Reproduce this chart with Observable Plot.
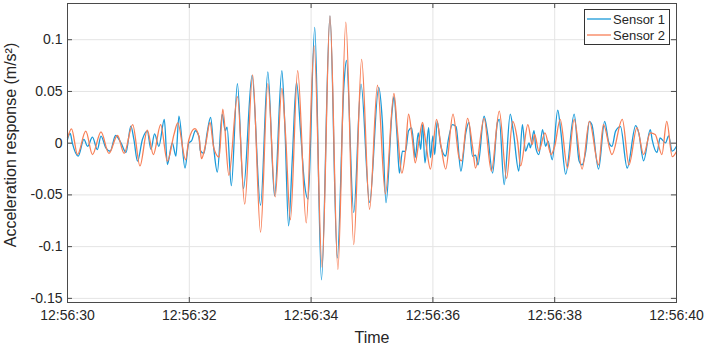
<!DOCTYPE html>
<html>
<head>
<meta charset="utf-8">
<script src="https://cdn.jsdelivr.net/npm/d3@7"></script>
<script src="https://cdn.jsdelivr.net/npm/@observablehq/plot@0.6"></script>
<style>
  html, body { margin: 0; padding: 0; background: #fff; }
</style>
</head>
<body>
<div id="chart"></div>
<script>
// ---- data (seconds after 12:56:30, acceleration in m/s²) ----
const seriesNames = ["Sensor 1", "Sensor 2"];
const xLabel = "Time";
const yLabel = "Acceleration response (m/s²)";
const s1Time = [0, 0.044, 0.08, 0.175, 0.27, 0.33, 0.41, 0.49, 0.55, 0.63, 0.70, 0.79, 0.88, 0.96, 1.04, 1.09, 1.15, 1.23, 1.31, 1.37, 1.43, 1.50, 1.59, 1.64, 1.72, 1.78, 1.83, 1.93,
  1.99, 2.04, 2.10, 2.16, 2.18, 2.24, 2.29, 2.35, 2.40, 2.46, 2.54, 2.59, 2.62, 2.69, 2.79, 2.89, 3.03, 3.17, 3.29, 3.40, 3.52,
  3.57, 3.63, 3.69, 3.76, 3.83, 3.89, 3.95, 4.06, 4.17, 4.31, 4.43, 4.54, 4.58, 4.70, 4.82, 4.96, 5.11,
  5.17, 5.23, 5.33, 5.36, 5.41, 5.45, 5.50, 5.55, 5.60, 5.65, 5.69, 5.71, 5.76, 5.80, 5.83, 5.87, 5.93, 5.96, 6.00, 6.03, 6.07, 6.13, 6.21, 6.25, 6.32, 6.38, 6.46, 6.54, 6.59, 6.65,
  6.70, 6.74, 6.84, 6.90, 6.98, 7.06, 7.09, 7.17, 7.27, 7.32, 7.41, 7.47, 7.52, 7.58, 7.60, 7.66, 7.69, 7.74, 7.80, 7.85, 7.89, 7.96, 8.05, 8.10, 8.18, 8.32,
  8.40, 8.45, 8.51, 8.57, 8.61, 8.72, 8.82, 8.89, 8.94, 9.00, 9.08, 9.19, 9.33, 9.38, 9.46, 9.57, 9.60, 9.68, 9.73, 9.82, 9.87, 9.93, 10.0];
const s1Value = [0.0036, 0.0094, 0.0, -0.0125, 0.0036, -0.003, 0.0059, -0.0062, 0.0069, -0.0045, -0.0078, 0.0074, 0.0, -0.009, 0.0164, 0.0036, -0.0174, 0.0036, 0.0116, -0.006, 0.009, -0.003, 0.0229, -0.0206, 0.0003, -0.0125, 0.026, -0.024,
  0.0, 0.0026, 0.012, 0.006, -0.007, -0.010, 0.009, 0.025, -0.004, -0.028, 0.028, 0.012, 0.0155, -0.041, 0.0575, -0.044, 0.0656, -0.060, 0.069, -0.051, 0.070,
  0.015, -0.080, -0.017, 0.059, 0.0087, -0.038, -0.054, 0.112, -0.132, 0.123, -0.111, 0.057, 0.080, -0.067, 0.057, -0.0575, 0.054,
  0.021, -0.0575, 0.031, 0.045, 0.008, -0.029, -0.0077, -0.008, 0.012, 0.0148, -0.0045, -0.014, 0.010, -0.006, 0.018, -0.019, 0.015, -0.014, 0.007, -0.011, 0.021, -0.003, -0.0125, 0.002, 0.018, 0.016, -0.027, 0.010, 0.020, -0.0125,
  -0.0116, -0.021, 0.026, 0.0084, -0.029, 0.020, 0.023, -0.040, 0.028, 0.0116, -0.027, 0.018, -0.0077, 0.0003, -0.0045, 0.012, -0.0045, -0.011, 0.013, -0.003, 0.002, -0.016, 0.032, 0.0116, -0.030, 0.028,
  -0.017, -0.021, -0.0077, 0.021, 0.018, -0.025, 0.021, 0.0003, -0.003, 0.0116, 0.016, -0.024, 0.017, 0.010, -0.017, 0.013, 0.0035, -0.009, 0.005, 0.0003, 0.007, -0.0077, -0.003];

const s2Time = [0, 0.066, 0.164, 0.30, 0.41, 0.55, 0.68, 0.82, 0.93, 1.07, 1.19, 1.31, 1.41, 1.53, 1.64, 1.75, 1.81, 1.94,
  1.99, 2.09, 2.16, 2.20, 2.27, 2.34, 2.40, 2.49, 2.55, 2.65, 2.79, 2.91, 3.04, 3.17, 3.29, 3.41, 3.52,
  3.58, 3.66, 3.78, 3.92, 4.05, 4.18, 4.31, 4.44, 4.57, 4.70, 4.83, 4.96, 5.09,
  5.22, 5.36, 5.42, 5.49, 5.55, 5.60, 5.66, 5.71, 5.77, 5.83, 5.88, 5.96, 6.06, 6.13, 6.21, 6.33, 6.43, 6.47, 6.57, 6.65, 6.70,
  6.84, 6.96, 7.09, 7.21, 7.31, 7.39, 7.44, 7.56, 7.63, 7.67, 7.74, 7.84, 7.94, 8.00, 8.09, 8.21, 8.32,
  8.45, 8.57, 8.72, 8.80, 8.94, 9.11, 9.22, 9.35, 9.46, 9.57, 9.65, 9.76, 9.84, 9.93, 10.0];
const s2Value = [0.005, 0.0138, -0.011, 0.0116, -0.011, 0.011, -0.0099, 0.0074, -0.0099, 0.018, -0.022, 0.0125, -0.011, 0.018, -0.0174, 0.0087, 0.0196, -0.016,
  0.0026, 0.014, 0.006, -0.015, -0.0006, 0.020, -0.004, -0.0135, 0.033, -0.031, 0.045, -0.059, 0.066, -0.086, 0.0575, -0.052, 0.053,
  0.0087, -0.074, 0.070, -0.077, 0.094, -0.120, 0.123, -0.122, 0.117, -0.098, 0.081, -0.064, 0.056,
  -0.049, 0.048, 0.010, -0.029, -0.0077, 0.028, 0.005, -0.019, 0.002, 0.020, 0.002, -0.025, 0.023, -0.0013, -0.025, 0.028, -0.014, -0.017, 0.024, -0.003, -0.024,
  0.024, -0.027, 0.031, -0.034, 0.021, 0.002, -0.022, 0.018, -0.0013, 0.0084, -0.0077, 0.010, -0.011, -0.003, 0.023, -0.024, 0.023,
  -0.025, 0.021, -0.021, 0.018, -0.011, 0.023, -0.021, 0.015, -0.011, 0.010, 0.0084, -0.011, 0.021, -0.013, -0.008];

const xTickSeconds = [0, 2, 4, 6, 8, 10];
const yTicks = [-0.15, -0.1, -0.05, 0, 0.05, 0.1];
const yDomain = [-0.154, 0.135];

// ---- build tables ----
const t0 = Date.UTC(2020, 0, 1, 12, 56, 30);
const toDate = s => new Date(t0 + s * 1000);
const s1 = s1Time.map((t, i) => ({time: toDate(t), value: s1Value[i]}));
const s2 = s2Time.map((t, i) => ({time: toDate(t), value: s2Value[i]}));
const xTicks = xTickSeconds.map(toDate);

const W = 706, H = 345;
const mL = 67, mR = 30, mT = 3, mB = 43;
const blue = "#1a9ad9", orange = "#f77f57";
const frameColor = "#4a4a4a";
const innerH = H - mT - mB;
const innerW = W - mL - mR;
const tickPx = 5;
const yTickLen = tickPx * (yDomain[1] - yDomain[0]) / innerH;
const xTickLen = tickPx * 10000 / innerW;

const chart = Plot.plot({
  width: W, height: H,
  marginLeft: mL, marginRight: mR, marginTop: mT, marginBottom: mB,
  style: {fontFamily: "'Liberation Sans', Arial, sans-serif", fontSize: "14px", color: "#262626", background: "#fff"},
  x: {type: "utc", domain: [toDate(0), toDate(10)]},
  y: {domain: yDomain},
  marks: [
    Plot.gridX(xTicks, {stroke: "#e4e4e4", strokeOpacity: 1}),
    Plot.gridY(yTicks, {stroke: "#e4e4e4", strokeOpacity: 1}),
    Plot.line(s1, {x: "time", y: "value", stroke: blue, strokeWidth: 1.3, curve: "monotone-x"}),
    Plot.line(s2, {x: "time", y: "value", stroke: orange, strokeWidth: 1.3, curve: "monotone-x"}),
    // inward ticks (MATLAB style)
    Plot.ruleX(xTicks, {x: d => d, y1: yDomain[0], y2: yDomain[0] + yTickLen, stroke: frameColor}),
    Plot.ruleX(xTicks, {x: d => d, y1: yDomain[1], y2: yDomain[1] - yTickLen, stroke: frameColor}),
    Plot.ruleY(yTicks, {y: d => d, x1: toDate(0), x2: toDate(xTickLen / 1000), stroke: frameColor}),
    Plot.ruleY(yTicks, {y: d => d, x1: toDate(10), x2: toDate(10 - xTickLen / 1000), stroke: frameColor}),
    Plot.frame({stroke: frameColor}),
    Plot.axisX(xTicks, {tickSize: 0, tickPadding: 8, tickFormat: d3.utcFormat("%H:%M:%S"), label: null, fontSize: 14}),
    Plot.axisY(yTicks, {tickSize: 0, tickPadding: 5, tickFormat: d => String(d), label: null, fontSize: 14}),
    Plot.text([xLabel], {text: d => d, frameAnchor: "bottom", dy: 35, fontSize: 16, fill: "#262626", textAnchor: "middle", lineAnchor: "middle"}),
    Plot.text([yLabel], {text: d => d, frameAnchor: "left", dx: -57, dy: -8, rotate: -90, fontSize: 16, fill: "#262626", textAnchor: "middle", lineAnchor: "middle"})
  ]
});
document.getElementById("chart").appendChild(chart);

// ---- legend (inside the axes, top right) ----
const svg = d3.select(chart);
const lg = svg.append("g")
  .attr("font-family", "'Liberation Sans', Arial, sans-serif")
  .attr("font-size", 13)
  .attr("text-anchor", "start");
lg.append("rect").attr("x", 584.5).attr("y", 9.5).attr("width", 85).attr("height", 35)
  .attr("fill", "#fff").attr("stroke", "#333");
[blue, orange].forEach((c, i) => {
  const yy = 19 + i * 16;
  lg.append("line").attr("x1", 587).attr("x2", 611).attr("y1", yy).attr("y2", yy)
    .attr("stroke", c).attr("stroke-width", 1.3);
  lg.append("text").attr("x", 613).attr("y", yy).attr("dy", "0.35em").attr("fill", "#262626")
    .attr("text-anchor", "start")
    .text(seriesNames[i]);
});
</script>
</body>
</html>
